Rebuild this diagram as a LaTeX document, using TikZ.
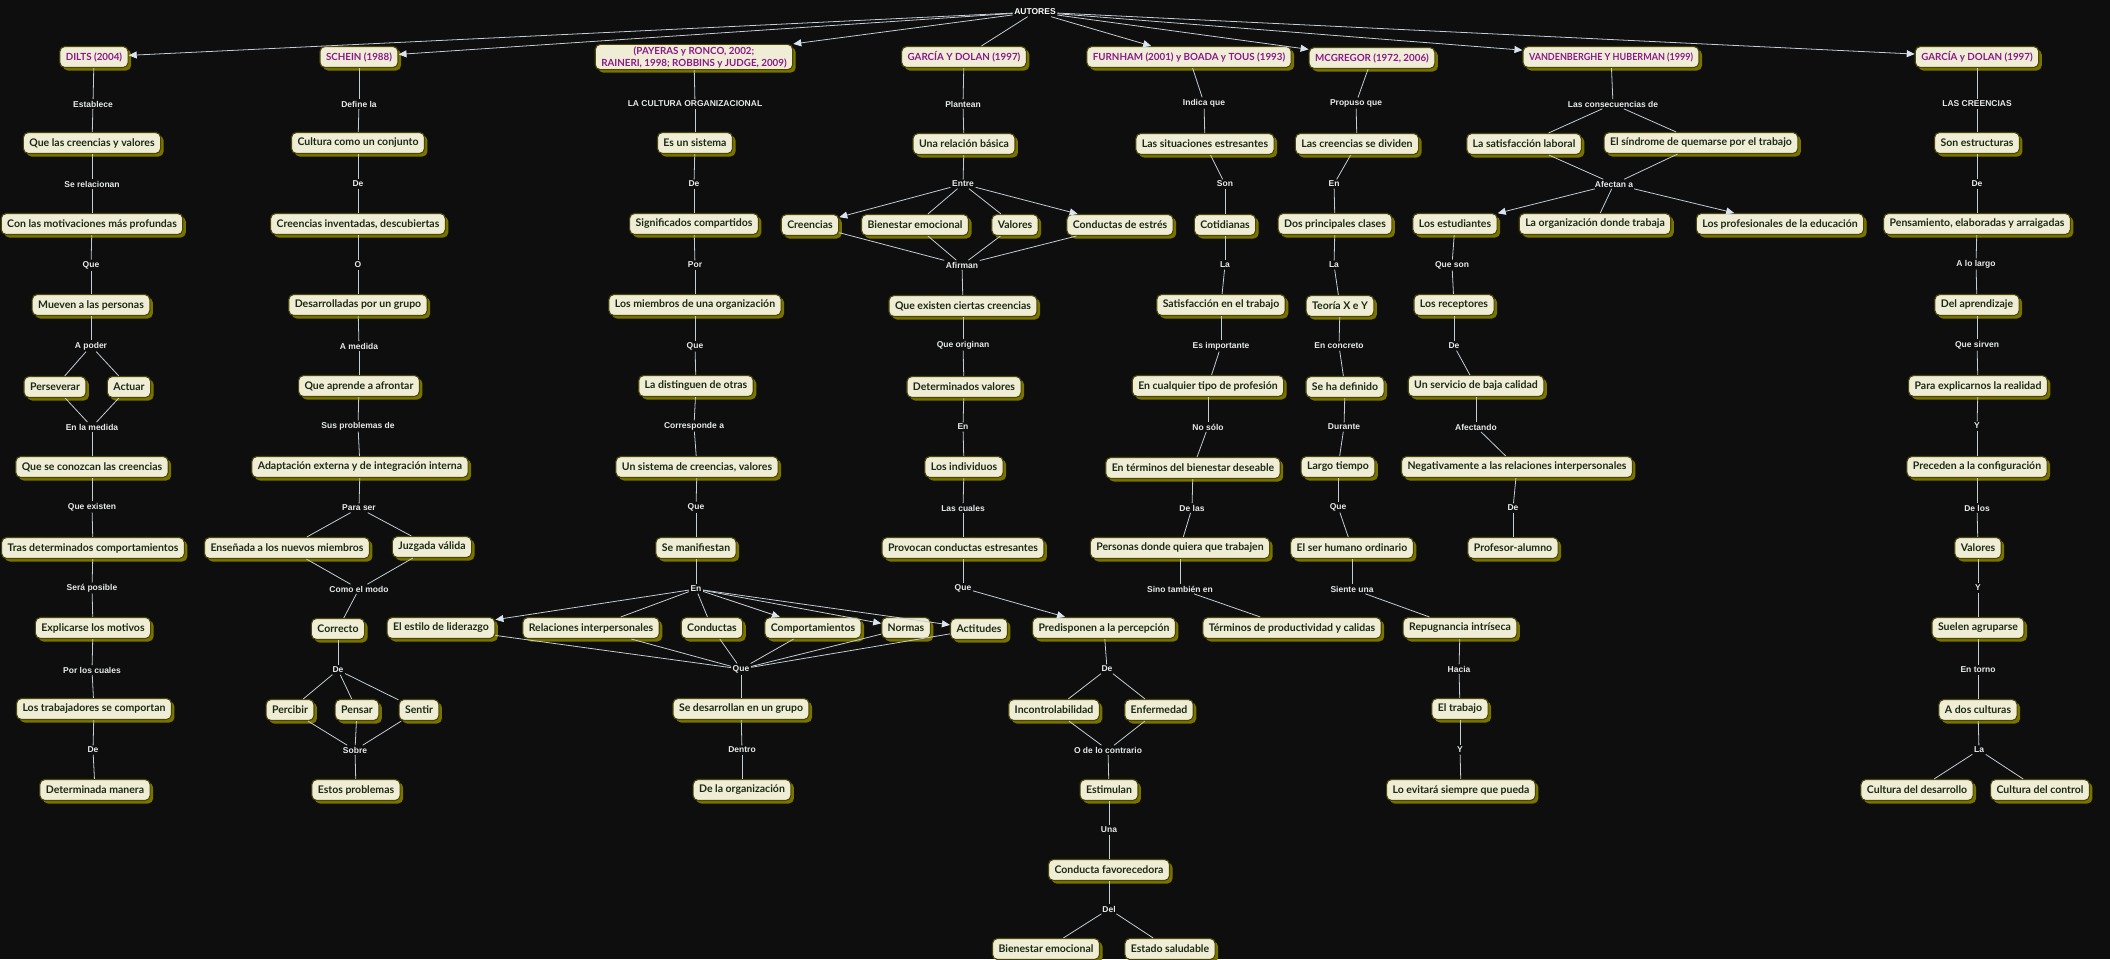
\documentclass[tikz,border=0pt]{standalone}
\usepackage{fontspec}
\setmainfont{Liberation Sans}
\newfontfamily\cfont{Lato}
\usetikzlibrary{shadows,arrows.meta}
\definecolor{bgc}{HTML}{0D0E0D}
\definecolor{fillc}{HTML}{EFEDD6}
\definecolor{bordc}{HTML}{4A4700}
\definecolor{shadc}{HTML}{7A7300}
\definecolor{txtc}{HTML}{1C2A14}
\definecolor{authc}{HTML}{8A1A8A}
\definecolor{lblc}{HTML}{E6E8EA}
\definecolor{linec}{HTML}{C4CCD4}
\definecolor{arrc}{HTML}{D8E4F0}
\tikzset{
 concept/.style={rectangle, rounded corners=5pt, draw=bordc, line width=1.1pt, fill=fillc, text=txtc,
   font=\cfont\bfseries\fontsize{10.5}{12.5}\selectfont, inner xsep=6pt, inner ysep=2pt, minimum height=21pt,
   drop shadow={shadow xshift=3pt, shadow yshift=-3pt, fill=shadc, opacity=1, draw=none}},
 author/.style={concept, text=authc, font=\cfont\bfseries\fontsize{9.8}{12}\selectfont},
 lbl/.style={fill=bgc, text=lblc, font=\bfseries\fontsize{8.5}{10}\selectfont, inner sep=1.5pt},
 conn/.style={draw=linec, line width=0.8pt},
 arr/.style={conn, -{Triangle[length=8pt,width=7pt,color=arrc]}},
}
\begin{document}
\begin{tikzpicture}[x=1pt,y=-1pt]
\fill[bgc] (0,0) rectangle (2110,959);
\useasboundingbox (0,0) rectangle (2110,959);
% root
\node[lbl, text=white] (autores) at (1035,12) {AUTORES};
% column 1
\node[author] (dilts) at (94,57) {DILTS (2004)};
\node[lbl] (l1a) at (93,104) {Establece};
\node[concept] (c1a) at (92,143) {Que las creencias y valores};
\node[lbl] (l1b) at (92,184) {Se relacionan};
\node[concept] (c1b) at (92,224) {Con las motivaciones más profundas};
\node[lbl] (l1c) at (91,265) {Que};
\node[concept] (c1c) at (91,305) {Mueven a las personas};
\node[lbl] (l1d) at (91,346) {A poder};
\node[concept] (c1d1) at (55,387) {Perseverar};
\node[concept] (c1d2) at (129,387) {Actuar};
\node[lbl] (l1e) at (92,427) {En la medida};
\node[concept] (c1e) at (92,467) {Que se conozcan las creencias};
\node[lbl] (l1f) at (92,507) {Que existen};
\node[concept] (c1f) at (93,548) {Tras determinados comportamientos};
\node[lbl] (l1g) at (92,588) {Será posible};
\node[concept] (c1g) at (93,628) {Explicarse los motivos};
\node[lbl] (l1h) at (92,670) {Por los cuales};
\node[concept] (c1h) at (94,709) {Los trabajadores se comportan};
\node[lbl] (l1i) at (93,750) {De};
\node[concept] (c1i) at (95,790) {Determinada manera};
% column 2
\node[author] (schein) at (359,57) {SCHEIN (1988)};
\node[lbl] (l2a) at (359,104) {Define la};
\node[concept] (c2a) at (358,143) {Cultura como un conjunto};
\node[lbl] (l2b) at (358,184) {De};
\node[concept] (c2b) at (358,224) {Creencias inventadas, descubiertas};
\node[lbl] (l2c) at (358,265) {O};
\node[concept] (c2c) at (358,305) {Desarrolladas por un grupo};
\node[lbl] (l2d) at (359,346) {A medida};
\node[concept] (c2d) at (359,386) {Que aprende a afrontar};
\node[lbl] (l2e) at (358,426) {Sus problemas de};
\node[concept] (c2e) at (360,467) {Adaptación externa y de integración interna};
\node[lbl] (l2f) at (359,508) {Para ser};
\node[concept] (c2f1) at (287,548) {Enseñada a los nuevos miembros};
\node[concept] (c2f2) at (432,547) {Juzgada válida};
\node[lbl] (l2g) at (359,589) {Como el modo};
\node[concept] (c2g) at (338,629) {Correcto};
\node[lbl] (l2h) at (338,670) {De};
\node[concept] (c2h1) at (290,710) {Percibir};
\node[concept] (c2h2) at (357,710) {Pensar};
\node[concept] (c2h3) at (419,710) {Sentir};
\node[lbl] (l2i) at (355,750) {Sobre};
\node[concept] (c2i) at (356,790) {Estos problemas};
% column 3
\node[author, align=center] (payeras) at (694,57) {(PAYERAS y RONCO, 2002;\\RAINERI, 1998; ROBBINS y JUDGE, 2009)};
\node[lbl] (l3a) at (695,104) {LA CULTURA ORGANIZACIONAL};
\node[concept] (c3a) at (695,143) {Es un sistema};
\node[lbl] (l3b) at (694,184) {De};
\node[concept] (c3b) at (694,224) {Significados compartidos};
\node[lbl] (l3c) at (695,265) {Por};
\node[concept] (c3c) at (695,305) {Los miembros de una organización};
\node[lbl] (l3d) at (695,346) {Que};
\node[concept] (c3d) at (696,386) {La distinguen de otras};
\node[lbl] (l3e) at (694,426) {Corresponde a};
\node[concept] (c3e) at (697,467) {Un sistema de creencias, valores};
\node[lbl] (l3f) at (696,507) {Que};
\node[concept] (c3f) at (696,548) {Se manifiestan};
\node[lbl] (l3g) at (696,589) {En};
\node[concept] (c3g1) at (441,628) {El estilo de liderazgo};
\node[concept] (c3g2) at (591,628) {Relaciones interpersonales};
\node[concept] (c3g3) at (712,628) {Conductas};
\node[concept] (c3g4) at (813,628) {Comportamientos};
\node[concept] (c3g5) at (906,628) {Normas};
\node[concept] (c3g6) at (979,629) {Actitudes};
\node[lbl] (l3h) at (741,669) {Que};
\node[concept] (c3h) at (741,709) {Se desarrollan en un grupo};
\node[lbl] (l3i) at (742,750) {Dentro};
\node[concept] (c3i) at (742,790) {De la organización};
% column 4
\node[author] (garcia1) at (964,57) {GARCÍA Y DOLAN (1997)};
\node[lbl] (l4a) at (963,104) {Plantean};
\node[concept] (c4a) at (964,144) {Una relación básica};
\node[lbl] (l4b) at (963,184) {Entre};
\node[concept] (c4b1) at (810,225) {Creencias};
\node[concept] (c4b2) at (915,225) {Bienestar emocional};
\node[concept] (c4b3) at (1015,225) {Valores};
\node[concept] (c4b4) at (1120,225) {Conductas de estrés};
\node[lbl] (l4c) at (962,265) {Afirman};
\node[concept] (c4c) at (963,306) {Que existen ciertas creencias};
\node[lbl] (l4d) at (963,345) {Que originan};
\node[concept] (c4d) at (964,387) {Determinados valores};
\node[lbl] (l4e) at (963,427) {En};
\node[concept] (c4e) at (964,467) {Los individuos};
\node[lbl] (l4f) at (963,508) {Las cuales};
\node[concept] (c4f) at (963,548) {Provocan conductas estresantes};
\node[lbl] (l4g) at (963,588) {Que};
\node[concept] (c4g) at (1104,628) {Predisponen a la percepción};
\node[lbl] (l4h) at (1107,669) {De};
\node[concept] (c4h1) at (1054,710) {Incontrolabilidad};
\node[concept] (c4h2) at (1159,710) {Enfermedad};
\node[lbl] (l4i) at (1108,750) {O de lo contrario};
\node[concept] (c4i) at (1109,790) {Estimulan};
\node[lbl] (l4j) at (1109,830) {Una};
\node[concept] (c4j) at (1109,870) {Conducta favorecedora};
\node[lbl] (l4k) at (1109,909) {Del};
\node[concept] (c4k1) at (1046,949) {Bienestar emocional};
\node[concept] (c4k2) at (1170,949) {Estado saludable};
% column 5
\node[author] (furnham) at (1189,57) {FURNHAM (2001) y BOADA y TOUS (1993)};
\node[lbl] (l5a) at (1204,103) {Indica que};
\node[concept] (c5a) at (1205,144) {Las situaciones estresantes};
\node[lbl] (l5b) at (1225,184) {Son};
\node[concept] (c5b) at (1225,225) {Cotidianas};
\node[lbl] (l5c) at (1225,265) {La};
\node[concept] (c5c) at (1221,305) {Satisfacción en el trabajo};
\node[lbl] (l5d) at (1221,346) {Es importante};
\node[concept] (c5d) at (1208,386) {En cualquier tipo de profesión};
\node[lbl] (l5e) at (1208,427) {No sólo};
\node[concept] (c5e) at (1193,468) {En términos del bienestar deseable};
\node[lbl] (l5f) at (1192,508) {De las};
\node[concept] (c5f) at (1180,548) {Personas donde quiera que trabajen};
\node[lbl] (l5g) at (1180,589) {Sino también en};
\node[concept] (c5g) at (1292,628) {Términos de productividad y calidas};
% column 6
\node[author] (mcgregor) at (1372,58) {MCGREGOR (1972, 2006)};
\node[lbl] (l6a) at (1356,103) {Propuso que};
\node[concept] (c6a) at (1357,144) {Las creencias se dividen};
\node[lbl] (l6b) at (1334,184) {En};
\node[concept] (c6b) at (1335,224) {Dos principales clases};
\node[lbl] (l6c) at (1334,265) {La};
\node[concept] (c6c) at (1340,306) {Teoría X e Y};
\node[lbl] (l6d) at (1339,346) {En concreto};
\node[concept] (c6d) at (1345,387) {Se ha definido};
\node[lbl] (l6e) at (1344,427) {Durante};
\node[concept] (c6e) at (1338,467) {Largo tiempo};
\node[lbl] (l6f) at (1338,507) {Que};
\node[concept] (c6f) at (1352,548) {El ser humano ordinario};
\node[lbl] (l6g) at (1352,589) {Siente una};
\node[concept] (c6g) at (1460,628) {Repugnancia intríseca};
\node[lbl] (l6h) at (1459,669) {Hacia};
\node[concept] (c6h) at (1460,709) {El trabajo};
\node[lbl] (l6i) at (1460,750) {Y};
\node[concept] (c6i) at (1461,790) {Lo evitará siempre que pueda};
% column 7
\node[author] (vanden) at (1611,57) {\scalebox{0.92}[1]{VANDENBERGHE Y HUBERMAN (1999)}};
\node[lbl] (l7a) at (1613,104) {Las consecuencias de};
\node[concept] (c7a1) at (1524,144) {La satisfacción laboral};
\node[concept] (c7a2) at (1701,143) {El síndrome de quemarse por el trabajo};
\node[lbl] (l7b) at (1614,184) {Afectan a};
\node[concept] (c7b1) at (1455,224) {Los estudiantes};
\node[concept] (c7b2) at (1595,224) {La organización donde trabaja};
\node[concept] (c7b3) at (1780,224) {Los profesionales de la educación};
\node[lbl] (l7c) at (1452,265) {Que son};
\node[concept] (c7c) at (1454,305) {Los receptores};
\node[lbl] (l7d) at (1454,346) {De};
\node[concept] (c7d) at (1476,386) {Un servicio de baja calidad};
\node[lbl] (l7e) at (1476,427) {Afectando};
\node[concept] (c7e) at (1517,467) {Negativamente a las relaciones interpersonales};
\node[lbl] (l7f) at (1513,508) {De};
\node[concept] (c7f) at (1513,548) {Profesor-alumno};
% column 8
\node[author] (garcia2) at (1977,57) {GARCÍA y DOLAN (1997)};
\node[lbl] (l8a) at (1977,104) {LAS CREENCIAS};
\node[concept] (c8a) at (1977,143) {Son estructuras};
\node[lbl] (l8b) at (1977,184) {De};
\node[concept] (c8b) at (1977,224) {Pensamiento, elaboradas y arraigadas};
\node[lbl] (l8c) at (1976,264) {A lo largo};
\node[concept] (c8c) at (1977,305) {Del aprendizaje};
\node[lbl] (l8d) at (1977,345) {Que sirven};
\node[concept] (c8d) at (1978,386) {Para explicarnos la realidad};
\node[lbl] (l8e) at (1977,426) {Y};
\node[concept] (c8e) at (1977,467) {Preceden a la configuración};
\node[lbl] (l8f) at (1977,508) {De los};
\node[concept] (c8f) at (1978,548) {Valores};
\node[lbl] (l8g) at (1978,588) {Y};
\node[concept] (c8g) at (1978,628) {Suelen agruparse};
\node[lbl] (l8h) at (1978,670) {En torno};
\node[concept] (c8h) at (1978,710) {A dos culturas};
\node[lbl] (l8i) at (1979,750) {La};
\node[concept] (c8i1) at (1917,790) {Cultura del desarrollo};
\node[concept] (c8i2) at (2040,790) {Cultura del control};
% plain connectors
\foreach \a/\b in {autores/garcia1,
 dilts/l1a, l1a/c1a, c1a/l1b, l1b/c1b, c1b/l1c, l1c/c1c, c1c/l1d, l1d/c1d1, l1d/c1d2, c1d1/l1e, c1d2/l1e, l1e/c1e, c1e/l1f, l1f/c1f, c1f/l1g, l1g/c1g, c1g/l1h, l1h/c1h, c1h/l1i, l1i/c1i,
 schein/l2a, l2a/c2a, c2a/l2b, l2b/c2b, c2b/l2c, l2c/c2c, c2c/l2d, l2d/c2d, c2d/l2e, l2e/c2e, c2e/l2f, l2f/c2f1, l2f/c2f2, c2f1/l2g, c2f2/l2g, l2g/c2g, c2g/l2h, l2h/c2h1, l2h/c2h2, l2h/c2h3, c2h1/l2i, c2h2/l2i, c2h3/l2i, l2i/c2i,
 payeras/l3a, l3a/c3a, c3a/l3b, l3b/c3b, c3b/l3c, l3c/c3c, c3c/l3d, l3d/c3d, c3d/l3e, l3e/c3e, c3e/l3f, l3f/c3f, c3f/l3g, l3g/c3g2, l3g/c3g3, c3g1/l3h, c3g2/l3h, c3g3/l3h, c3g4/l3h, c3g5/l3h, c3g6/l3h, l3h/c3h, c3h/l3i, l3i/c3i,
 garcia1/l4a, l4a/c4a, c4a/l4b, l4b/c4b2, l4b/c4b3, c4b1/l4c, c4b2/l4c, c4b3/l4c, c4b4/l4c, l4c/c4c, c4c/l4d, l4d/c4d, c4d/l4e, l4e/c4e, c4e/l4f, l4f/c4f, c4f/l4g, c4g/l4h, l4h/c4h1, l4h/c4h2, c4h1/l4i, c4h2/l4i, l4i/c4i, c4i/l4j, l4j/c4j, c4j/l4k, l4k/c4k1, l4k/c4k2,
 furnham/l5a, l5a/c5a, c5a/l5b, l5b/c5b, c5b/l5c, l5c/c5c, c5c/l5d, l5d/c5d, c5d/l5e, l5e/c5e, c5e/l5f, l5f/c5f, c5f/l5g, l5g/c5g,
 mcgregor/l6a, l6a/c6a, c6a/l6b, l6b/c6b, c6b/l6c, l6c/c6c, c6c/l6d, l6d/c6d, c6d/l6e, l6e/c6e, c6e/l6f, l6f/c6f, c6f/l6g, l6g/c6g, c6g/l6h, l6h/c6h, c6h/l6i, l6i/c6i,
 vanden/l7a, l7a/c7a1, l7a/c7a2, c7a1/l7b, c7a2/l7b, l7b/c7b2, c7b1/l7c, l7c/c7c, c7c/l7d, l7d/c7d, c7d/l7e, l7e/c7e, c7e/l7f, l7f/c7f,
 garcia2/l8a, l8a/c8a, c8a/l8b, l8b/c8b, c8b/l8c, l8c/c8c, c8c/l8d, l8d/c8d, c8d/l8e, l8e/c8e, c8e/l8f, l8f/c8f, c8f/l8g, l8g/c8g, c8g/l8h, l8h/c8h, c8h/l8i, l8i/c8i1, l8i/c8i2}
 \draw[conn] (\a) -- (\b);
% arrows
\foreach \a/\b in {autores/dilts, autores/schein, autores/payeras, autores/furnham, autores/mcgregor, autores/vanden, autores/garcia2,
 l3g/c3g1, l3g/c3g4, l3g/c3g5, l3g/c3g6, l4b/c4b1, l4b/c4b4, l4g/c4g, l7b/c7b1, l7b/c7b3}
 \draw[arr] (\a) -- (\b);
\end{tikzpicture}
\end{document}
